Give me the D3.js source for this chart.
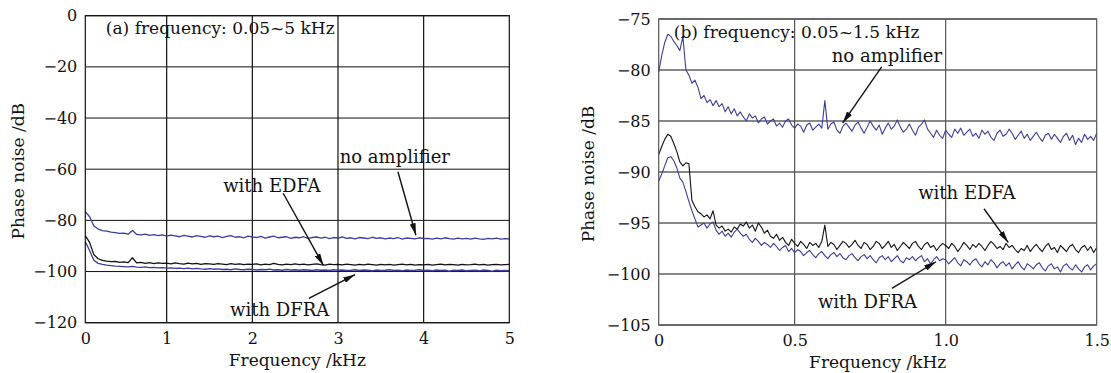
<!DOCTYPE html>
<html>
<head>
<meta charset="utf-8">
<script src="https://cdn.jsdelivr.net/npm/d3@7"></script>
<style>
  body { margin: 0; background: #fff; }
</style>
</head>
<body>
<script>
// ---- panel (a): 0.05 ~ 5 kHz, 0.05 kHz sampling grid ----
const freqA = d3.range(1, 101).map(i => i * 0.05);

const noAmpA = [
  -76.6, -78.6, -82.2, -83.4, -84.0, -84.2, -84.6, -84.8, -85.1, -85.0,
  -85.4, -84.0, -85.5, -85.7, -85.4, -85.9, -85.6, -86.0, -85.7, -86.2,
  -85.8, -86.1, -86.4, -85.9, -86.2, -86.5, -86.0, -86.3, -86.6, -86.1,
  -86.4, -86.2, -86.7, -86.3, -86.0, -86.6, -86.4, -86.8, -86.2, -86.5,
  -86.7, -86.3, -86.9, -86.5, -86.2, -86.8, -86.6, -86.4, -87.0, -86.6,
  -86.8, -86.4, -87.0, -86.7, -86.5, -86.9, -86.6, -87.1, -86.7, -86.9,
  -86.5, -87.0, -86.8, -87.2, -86.7, -86.9, -87.1, -86.6, -87.0, -86.8,
  -87.2, -86.9, -87.1, -86.7, -87.3, -86.9, -87.0, -87.2, -86.8, -87.1,
  -87.0, -87.3, -86.9, -87.2, -86.8, -87.1, -87.3, -86.9, -87.2, -87.0,
  -87.3, -86.9, -87.2, -87.4, -87.0, -87.2, -86.9, -87.3, -87.1, -87.2
];
const edfaA = [
  -86.0, -88.6, -93.4, -95.0, -95.6, -95.9, -96.1, -96.0, -96.4, -96.2,
  -96.5, -94.6, -96.6, -96.4, -96.8, -96.5, -96.9, -96.6, -96.8, -96.7,
  -97.0, -96.6, -96.9, -97.1, -96.7, -97.0, -96.8, -97.2, -96.9, -97.0,
  -97.2, -96.9, -97.1, -97.3, -96.9, -97.2, -97.0, -97.3, -97.1, -97.2,
  -97.0, -97.4, -97.1, -97.3, -96.8, -97.2, -97.4, -97.1, -97.3, -97.0,
  -97.3, -97.1, -97.4, -97.2, -97.0, -97.3, -97.5, -97.1, -97.3, -97.2,
  -97.4, -97.1, -97.3, -97.5, -97.2, -97.4, -97.1, -97.3, -97.5, -97.2,
  -97.4, -97.2, -97.5, -97.3, -97.1, -97.4, -97.2, -97.5, -97.3, -97.4,
  -97.2, -97.5, -97.3, -97.1, -97.4, -97.2, -97.3, -97.5, -97.2, -97.4,
  -97.3, -97.1, -97.4, -97.2, -97.5, -97.3, -97.2, -97.4, -97.3, -97.2
];
const dfraA = [
  -88.4, -91.8, -95.6, -96.8, -97.2, -97.5, -97.7, -97.9, -98.0, -98.1,
  -98.2, -98.0, -98.3, -98.4, -98.2, -98.5, -98.4, -98.6, -98.5, -98.7,
  -98.6, -98.8, -98.7, -98.9, -98.7, -99.0, -98.8, -99.0, -99.1, -98.9,
  -99.1, -99.0, -99.2, -99.1, -99.3, -99.0, -99.2, -99.3, -99.1, -99.2,
  -99.4, -99.2, -99.3, -99.1, -99.4, -99.3, -99.5, -99.2, -99.4, -99.3,
  -99.5, -99.3, -99.4, -99.6, -99.3, -99.5, -99.4, -99.6, -99.3, -99.5,
  -99.4, -99.6, -99.5, -99.3, -99.6, -99.4, -99.5, -99.7, -99.4, -99.6,
  -99.5, -99.3, -99.6, -99.5, -99.7, -99.4, -99.6, -99.5, -99.3, -99.6,
  -99.5, -99.7, -99.4, -99.6, -99.5, -99.8, -99.5, -99.6, -99.4, -99.7,
  -99.6, -99.5, -99.7, -99.4, -99.6, -99.8, -99.5, -99.7, -99.6, -99.7
];

// ---- panel (b): 0.05 ~ 1.5 kHz, 0.01 kHz sampling grid ----
const freqB = d3.range(5, 151).map(i => i / 100);

const noAmpB = [
  -80.2, -78.6, -77.3, -76.5, -76.7, -77.2, -77.6, -78.1, -76.7, -80.0,
  -80.5, -81.3, -81.0, -81.7, -82.8, -82.5, -83.2, -82.9, -83.5, -83.0,
  -83.6, -83.3, -84.1, -83.6, -84.3,
  -83.8, -84.5, -84.1, -84.6, -85.0, -84.3, -84.7, -84.5, -85.2, -84.8,
  -84.6, -85.3, -85.0, -84.8, -85.5, -85.2, -85.6, -85.0, -84.8, -85.4,
  -85.7, -85.3, -85.5, -86.1, -85.4, -85.2, -85.9, -85.6, -85.3, -85.7,
  -83.0, -85.8, -85.3, -85.1, -85.9, -86.2, -85.5, -85.2, -85.6, -86.0,
  -85.4, -85.1, -85.7, -86.2, -85.6, -85.0, -85.5, -85.9, -85.4, -86.3,
  -85.7, -85.2, -85.8, -85.5, -84.9, -85.6, -86.1, -85.8, -85.3, -85.9,
  -86.4, -85.6, -85.3, -84.9, -85.8, -86.2, -86.6, -85.9, -86.4, -86.7,
  -85.9, -86.3, -86.6, -85.8, -86.2, -85.7, -86.4, -86.1, -85.8, -86.5,
  -86.2, -86.7, -85.9, -86.3, -86.0, -86.6, -86.9, -86.2, -85.9, -86.5,
  -86.3, -85.8, -86.2, -86.8, -86.4, -86.0, -86.7, -86.3, -86.9, -86.5,
  -86.1, -86.6, -87.0, -86.4, -86.2, -86.8, -86.3, -86.7, -87.1, -86.5,
  -86.2, -86.9, -86.4, -87.3, -86.7, -87.1, -86.3, -86.8, -86.5, -86.9,
  -86.2
];
const edfaB = [
  -88.3, -87.5, -86.8, -86.3, -86.5, -87.2, -88.0, -89.0, -89.4, -89.1,
  -89.2, -92.8, -93.4, -93.9, -94.1, -94.4, -94.2, -94.6, -93.8, -95.2,
  -95.5, -95.3, -95.8, -95.6, -95.9,
  -95.4, -95.6, -95.1, -95.3, -94.9, -95.5, -95.2, -95.8, -95.0, -95.4,
  -96.0, -95.7, -96.3, -96.5, -96.1, -96.7, -96.4, -96.9, -97.2, -96.6,
  -97.0, -97.3, -96.8, -97.1, -97.5, -96.9, -97.2, -97.0, -97.4, -96.8,
  -95.2, -97.3, -96.9, -97.1, -97.6, -97.2, -96.8, -97.0, -97.4, -97.1,
  -96.7, -97.2, -97.5, -96.9, -97.1, -97.6, -97.3, -96.8, -97.0, -97.5,
  -97.2, -96.8, -97.4, -97.1, -97.7, -97.3, -96.9, -97.2, -97.5, -97.0,
  -96.8, -97.3, -97.6, -97.1, -96.9, -97.4, -97.2, -97.7, -97.3, -97.0,
  -97.2, -97.5, -97.0, -97.3, -97.8, -97.4, -96.9, -97.2, -97.6, -97.1,
  -97.4, -97.0, -97.3, -97.7, -97.2, -96.8, -97.1, -97.5, -97.3, -97.6,
  -97.0, -97.4, -97.2, -97.6, -97.9, -97.5, -97.7, -97.2, -97.8, -97.4,
  -97.1, -97.5, -97.8, -97.3, -97.0, -97.6, -97.4, -97.9, -97.2, -97.5,
  -97.8, -97.3, -97.1, -97.6, -97.9, -97.4, -97.2, -97.7, -97.3, -97.9,
  -97.4
];
const dfraB = [
  -90.9, -90.2, -89.4, -88.6, -88.5, -88.9, -89.6, -90.6, -91.0, -91.9,
  -92.9, -93.8, -94.6, -95.4, -95.2, -95.0, -95.5, -95.1, -94.9, -95.7,
  -96.1, -95.8, -96.3, -96.0, -96.4,
  -95.9, -95.6, -96.0, -96.3, -96.1, -96.6, -96.9, -96.5, -96.8, -97.2,
  -96.9, -97.1, -97.4, -97.0, -97.3, -97.7, -97.4, -97.2, -97.8, -97.5,
  -97.9, -97.6, -97.8, -98.2, -97.9, -97.7, -98.1, -98.4, -98.0, -97.8,
  -98.2, -98.5, -98.1, -97.9, -98.3, -98.0, -98.4, -98.6, -98.2, -98.0,
  -98.4, -98.7, -98.3, -98.1, -98.5, -98.2, -98.6, -98.9, -98.4, -98.2,
  -98.6, -98.3, -98.8, -98.5, -98.2, -98.7, -98.9, -98.4, -98.6, -98.3,
  -98.7, -98.4, -98.2, -98.8, -98.5, -99.0, -98.6, -98.3, -98.7, -98.5,
  -98.6, -99.0, -98.7, -98.4, -98.9, -99.2, -98.6, -98.8, -99.1, -98.7,
  -98.5, -99.0, -99.3, -98.8, -99.1, -98.6, -98.9, -99.4, -99.0, -98.8,
  -99.2, -98.9, -99.5, -99.1, -98.8, -99.3, -99.6, -99.0, -99.2, -99.5,
  -99.1, -98.9, -99.4, -99.7, -99.2, -99.0, -99.5, -99.3, -99.8, -99.2,
  -99.0, -99.4, -99.6, -99.1, -99.5, -99.8, -99.3, -99.1, -99.6, -99.2,
  -99.0
];

// ticks
const xTicksA = [0.05, 1, 2, 3, 4, 5];
const xTickLabelsA = ["0", "1", "2", "3", "4", "5"];
const yTicksA = [0, -20, -40, -60, -80, -100, -120];
const xTicksB = [0.05, 0.5, 1.0, 1.5];
const xTickLabelsB = ["0", "0.5", "1.0", "1.5"];
const yTicksB = [-75, -80, -85, -90, -95, -100, -105];

// annotations, in data units [kHz, dB]
const notesA = [
  {text: "(a) frequency: 0.05~5 kHz", at: [0.29, -7.2], size: 17},
  {text: "no amplifier", at: [3.02, -57.6]},
  {text: "with EDFA", at: [1.66, -68.8]},
  {text: "with DFRA", at: [1.74, -117.4]}
];
const arrowsA = [
  {from: [3.70, -61.0], to: [3.91, -85.8]},
  {from: [2.36, -69.4], to: [2.83, -97.6]},
  {from: [2.66, -110.5], to: [3.20, -101.2]}
];
const notesB = [
  {text: "(b) frequency: 0.05~1.5 kHz", at: [0.10, -76.9], size: 17},
  {text: "no amplifier", at: [0.623, -79.2]},
  {text: "with EDFA", at: [0.909, -92.6]},
  {text: "with DFRA", at: [0.577, -103.3]}
];
const arrowsB = [
  {from: [0.788, -79.7], to: [0.659, -85.2]},
  {from: [1.127, -93.6], to: [1.207, -96.9]},
  {from: [0.822, -101.4], to: [0.968, -98.8]}
];

const BLUE = "#3b3d9c";
const BLACK = "#111";

const svg = d3.select("body").append("svg")
    .attr("width", 1111)
    .attr("height", 373)
    .style("font-family", "'DejaVu Serif', serif");

svg.append("defs").append("marker")
    .attr("id", "arrow")
    .attr("viewBox", "0 0 12 6")
    .attr("refX", 12).attr("refY", 3)
    .attr("markerWidth", 12).attr("markerHeight", 6)
    .attr("markerUnits", "userSpaceOnUse")
    .attr("orient", "auto")
    .append("path")
    .attr("d", "M0,0L12,3L0,6Z")
    .attr("fill", BLACK);

function drawPanel(p) {
    const x = d3.scaleLinear().domain(p.xDomain).range([p.left, p.right]);
    const y = d3.scaleLinear().domain(p.yDomain).range([p.bottom, p.top]);
    const g = svg.append("g");

    // grid
    g.append("g").selectAll("line")
        .data(p.yTicks)
        .join("line")
        .attr("x1", p.left).attr("x2", p.right)
        .attr("y1", d => y(d)).attr("y2", d => y(d))
        .attr("stroke", BLACK).attr("stroke-width", 1);

    g.append("g").selectAll("line")
        .data(p.xTicks.slice(1, -1))
        .join("line")
        .attr("x1", d => x(d)).attr("x2", d => x(d))
        .attr("y1", p.top).attr("y2", p.bottom)
        .attr("stroke", p.vGrid).attr("stroke-width", 1.2);

    // series
    const line = d3.line()
        .x((d, i) => x(p.freq[i]))
        .y(d => y(d));

    p.series.forEach(s => {
        g.append("path")
            .datum(s.values)
            .attr("d", line)
            .attr("fill", "none")
            .attr("stroke", s.color)
            .attr("stroke-width", p.lineWidth)
            .attr("stroke-linejoin", "round");
    });

    // frame
    g.append("rect")
        .attr("x", p.left).attr("y", p.top)
        .attr("width", p.right - p.left).attr("height", p.bottom - p.top)
        .attr("fill", "none")
        .attr("stroke", p.frame).attr("stroke-width", 1.2);

    // axes (labels only, the frame does the lines)
    const xAxis = g.append("g")
        .attr("transform", `translate(0,${p.bottom})`)
        .call(d3.axisBottom(x)
            .tickValues(p.xTicks)
            .tickFormat((d, i) => p.xTickLabels[i])
            .tickSize(0)
            .tickPadding(10));
    const yAxis = g.append("g")
        .attr("transform", `translate(${p.left},0)`)
        .call(d3.axisLeft(y)
            .tickValues(p.yTicks)
            .tickFormat(d3.format("d"))
            .tickSize(0)
            .tickPadding(8));
    [xAxis, yAxis].forEach(a => {
        a.select(".domain").remove();
        a.selectAll("text")
            .attr("fill", BLACK)
            .style("font-family", "'DejaVu Serif', serif")
            .style("font-size", "16px");
    });

    g.append("text")
        .attr("x", (p.left + p.right) / 2)
        .attr("y", p.bottom + 43)
        .attr("text-anchor", "middle")
        .attr("fill", BLACK)
        .style("font-size", "17px")
        .text("Frequency /kHz");

    g.append("text")
        .attr("transform", `translate(${p.yLabelX},${(p.top + p.bottom) / 2 + 2}) rotate(-90)`)
        .attr("text-anchor", "middle")
        .attr("fill", BLACK)
        .style("font-size", "17px")
        .text("Phase noise /dB");

    // annotations
    g.append("g").selectAll("text")
        .data(p.notes)
        .join("text")
        .attr("x", d => x(d.at[0]))
        .attr("y", d => y(d.at[1]))
        .attr("fill", BLACK)
        .style("font-size", d => (d.size || 18) + "px")
        .text(d => d.text);

    g.append("g").selectAll("line")
        .data(p.arrows)
        .join("line")
        .attr("x1", d => x(d.from[0])).attr("y1", d => y(d.from[1]))
        .attr("x2", d => x(d.to[0])).attr("y2", d => y(d.to[1]))
        .attr("stroke", BLACK)
        .attr("stroke-width", 1.4)
        .attr("marker-end", "url(#arrow)");
}

drawPanel({
    left: 85.3, right: 509.3, top: 15.7, bottom: 322.7, yLabelX: 24,
    xDomain: [0.05, 5], yDomain: [-120, 0],
    xTicks: xTicksA, xTickLabels: xTickLabelsA, yTicks: yTicksA,
    vGrid: BLACK, frame: BLACK, lineWidth: 1.3,
    freq: freqA,
    series: [
        {values: noAmpA, color: BLUE},
        {values: edfaA, color: BLACK},
        {values: dfraA, color: BLUE}
    ],
    notes: notesA, arrows: arrowsA
});

drawPanel({
    left: 658.7, right: 1096.7, top: 19, bottom: 325, yLabelX: 594,
    xDomain: [0.05, 1.5], yDomain: [-105, -75],
    xTicks: xTicksB, xTickLabels: xTickLabelsB, yTicks: yTicksB,
    vGrid: "#555", frame: "#555", lineWidth: 1.1,
    freq: freqB,
    series: [
        {values: noAmpB, color: BLUE},
        {values: edfaB, color: BLACK},
        {values: dfraB, color: BLUE}
    ],
    notes: notesB, arrows: arrowsB
});
</script>
</body>
</html>
